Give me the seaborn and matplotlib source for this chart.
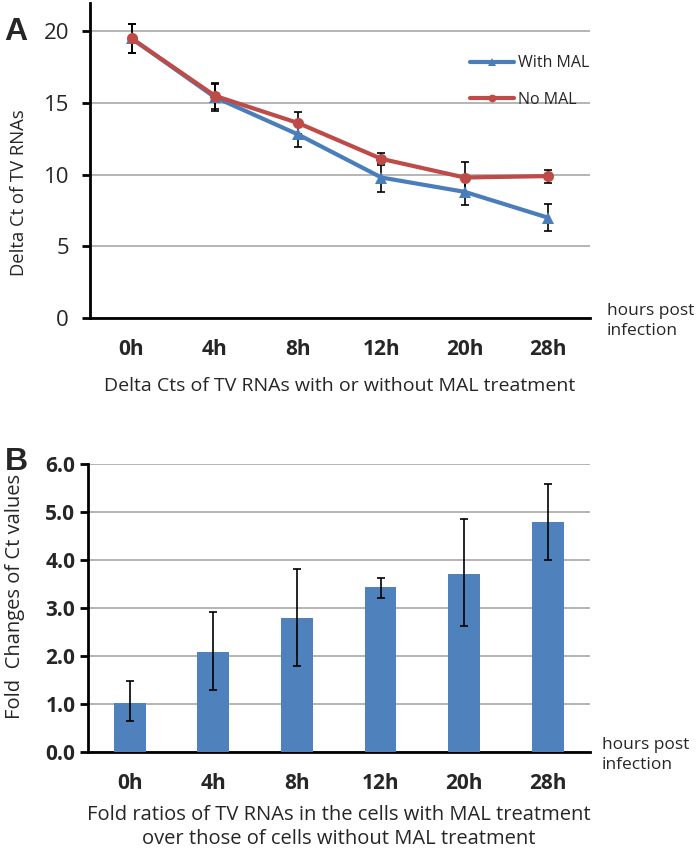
import numpy as np
import pandas as pd
import matplotlib
matplotlib.use('Agg')
import matplotlib.pyplot as plt
import seaborn as sns

# data
hours = ['0h', '4h', '8h', '12h', '20h', '28h']
with_mal = [19.5, 15.4, 12.8, 9.8, 8.8, 7.0]
with_mal_err = [1.0, 0.95, 0.9, 1.0, 0.9, 0.95]
no_mal = [19.5, 15.5, 13.6, 11.1, 9.8, 9.9]
no_mal_err = [1.0, 0.9, 0.75, 0.4, 1.1, 0.45]
fold = [1.03, 2.08, 2.80, 3.43, 3.71, 4.78]
fold_lo = [0.65, 1.30, 1.80, 3.20, 2.62, 4.00]
fold_hi = [1.47, 2.92, 3.80, 3.63, 4.85, 5.58]

blue = '#4A7EBB'
red = '#BE4B48'
bar_col = '#4F81BD'

sns.set_style('white')
plt.rcParams['font.family'] = ['Open Sans', 'DejaVu Sans']

df_a = pd.DataFrame({
    'hour': hours * 2,
    'ct': with_mal + no_mal,
    'grp': ['With MAL'] * 6 + ['No MAL'] * 6,
})
df_b = pd.DataFrame({'hour': hours, 'fold': fold})

fig = plt.figure(figsize=(6.97, 8.55), dpi=100)
axA = fig.add_axes([0.129, 0.628, 0.717, 0.369])
axB = fig.add_axes([0.126, 0.1205, 0.720, 0.337])

# ---- panel A
x = np.arange(len(hours))
axA.errorbar(x, with_mal, yerr=with_mal_err, fmt='none', ecolor='black',
             elinewidth=1.2, capsize=3, capthick=1.2, zorder=4)
axA.errorbar(x, no_mal, yerr=no_mal_err, fmt='none', ecolor='black',
             elinewidth=1.2, capsize=3, capthick=1.2, zorder=4)
sns.lineplot(data=df_a, x='hour', y='ct', hue='grp', style='grp',
             palette={'With MAL': blue, 'No MAL': red},
             markers={'With MAL': '^', 'No MAL': 'o'}, dashes=False,
             markersize=8, markeredgewidth=0, linewidth=3, sort=False,
             ax=axA, zorder=5)
axA.set_ylim(0, 22)
axA.set_yticks([0, 5, 10, 15, 20])
axA.set_xlim(-0.5, 5.5)
leg = axA.legend(frameon=False, loc='upper right', bbox_to_anchor=(1.0, 0.833),
                 fontsize=11.5, handlelength=2.7, handletextpad=0.3, labelspacing=1.3,
                 borderaxespad=0, borderpad=0, markerscale=0.7)
axA.set_ylabel('Delta Ct of TV RNAs', fontsize=13.3)
axA.yaxis.set_label_coords(-0.124, 0.397)
axA.set_xlabel('Delta Cts of TV RNAs with or without MAL treatment', fontsize=14, labelpad=12)
axA.tick_params(axis='y', labelsize=16, pad=9)

# ---- panel B
sns.barplot(data=df_b, x='hour', y='fold', color=bar_col, saturation=1,
            width=0.38, linewidth=0, ax=axB, zorder=3)
axB.errorbar(x, fold, yerr=[np.array(fold) - np.array(fold_lo), np.array(fold_hi) - np.array(fold)],
             fmt='none', ecolor='black', elinewidth=1.2, capsize=3, capthick=1.2, zorder=4)
axB.set_ylim(0, 6)
axB.set_yticks(np.arange(0, 7, 1))
axB.set_yticklabels(['%.1f' % v for v in np.arange(0, 7, 1)], fontweight='bold')
axB.set_xlim(-0.5, 5.5)
axB.set_ylabel('Fold  Changes of Ct values', fontsize=14.5)
axB.yaxis.set_label_coords(-0.125, 0.54)
axB.set_xlabel('Fold ratios of TV RNAs in the cells with MAL treatment\nover those of cells without MAL treatment',
               fontsize=14.5, labelpad=8, linespacing=1.25)
axB.tick_params(axis='y', labelsize=15, pad=3)

for ax in (axA, axB):
    ax.set_xticks(x)
    ax.set_xticklabels(hours, fontweight='bold')
    ax.set_xticks(np.arange(-0.5, 6, 1), minor=True)
    ax.tick_params(axis='x', which='major', length=0, labelsize=15, pad=15)
    ax.tick_params(axis='x', which='minor', length=6, width=2, direction='out', color='black')
    ax.tick_params(axis='y', length=6, width=2, direction='out', color='black', left=True)
    ax.yaxis.grid(True, color='#A0A0A0', linewidth=1.1)
    ax.set_axisbelow(True)
    for s in ('top', 'right'):
        ax.spines[s].set_visible(False)
    for s in ('left', 'bottom'):
        ax.spines[s].set_color('black')
        ax.spines[s].set_linewidth(2)

axA.text(1.034, -0.01, 'hours post\ninfection', transform=axA.transAxes,
         fontsize=12.5, va='center', ha='left', linespacing=1.35)
axB.text(1.024, -0.01, 'hours post\ninfection', transform=axB.transAxes,
         fontsize=12.5, va='center', ha='left', linespacing=1.35)

fig.text(0.022, 0.9626, 'A', fontsize=23, fontweight='bold', fontfamily='Liberation Sans',
         ha='center', va='center')
fig.text(0.023, 0.4596, 'B', fontsize=23, fontweight='bold', fontfamily='Liberation Sans',
         ha='center', va='center')

fig.savefig('out.png', dpi=100)
